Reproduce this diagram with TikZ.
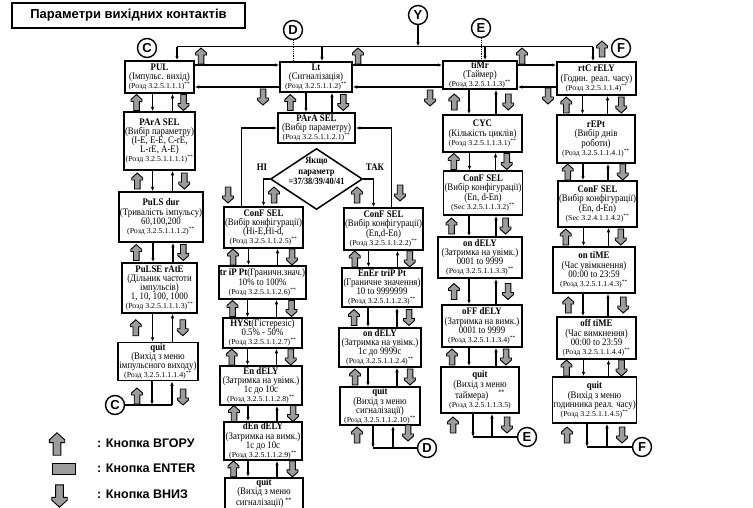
\documentclass[tikz,border=0pt]{standalone}
\usepackage{fontspec}
\setmainfont{Liberation Serif}[FakeStretch=0.88]
\setsansfont{Liberation Sans}
\newfontfamily\reffont{Liberation Serif}[FakeStretch=1.05]
\usepackage{xcolor}
\definecolor{BtnGray}{HTML}{9C9C9C}
\usetikzlibrary{arrows.meta,positioning,shapes.geometric,calc}
\newcommand{\rz}[1]{{\reffont\fontsize{7.5}{8}\selectfont #1\textsuperscript{**}}}
% buttons and the two connectors between a box and the box below it
\newcommand{\vlink}[6]{%
  \draw[flow] ($(#1.south)+(#4,0)$) -- ($(#1.south |- #2.north)+(#4,0)$);
  \draw[flow] ($(#1.south |- #2.north)+(#5,0)$) -- ($(#1.south)+(#5,0)$);
  \path ($(#1.south)!.5!(#2.north)+(#3,0)$) pic{btnup};
  \path ($(#1.south)!.5!(#2.north)+(#6,0)$) pic{btndown};}

\begin{document}
\begin{tikzpicture}[
  x=1pt,y=1pt,
  font=\fontsize{10}{9.2}\selectfont,
  menubox/.style 2 args={draw,line width=1.5pt,inner xsep=1pt,inner ysep=.5pt,align=center,
    minimum width=#1pt,minimum height=#2pt},
  cond/.style={diamond,draw,line width=1.5pt,aspect=1.5,inner sep=0pt,
    minimum width=92pt,minimum height=61pt},
  condtext/.style={align=center,inner sep=0pt,font=\bfseries\fontsize{9.5}{10.5}\selectfont},
  tag/.style={circle,draw,line width=1.4pt,inner sep=0pt,minimum size=19pt,
    font=\sffamily\bfseries\fontsize{13}{13}\selectfont},
  legend/.style={anchor=west,inner sep=0pt,font=\sffamily\bfseries\fontsize{12.5}{12.5}\selectfont},
  flow/.style={-{Latex[length=4.5pt,width=3.5pt]},line width=1.1pt},
  btn/.style={draw=black,fill=BtnGray,line width=0.9pt},
  btnup/.pic={\draw[btn] (-2.8,-8) -- (-2.8,1) -- (-5.5,1) -- (-5.5,3) -- (0,8)
    -- (5.5,3) -- (5.5,1) -- (2.8,1) -- (2.8,-8) -- cycle;},
  btndown/.pic={\draw[btn] (-2.8,8) -- (-2.8,-1) -- (-5.5,-1) -- (-5.5,-3) -- (0,-8)
    -- (5.5,-3) -- (5.5,-1) -- (2.8,-1) -- (2.8,8) -- cycle;}
]
\useasboundingbox (0,0) rectangle (753,-507);
\node[draw,line width=1.2pt,minimum width=233pt,minimum height=25pt,
  font=\sffamily\bfseries\fontsize{13}{15}\selectfont] (title) at (128.5,-15.5)
  {Параметри вихідних контактів};

% pulse output
\node[menubox={69}{32}] (pul) at (159.5,-77) {\textbf{PUL}\\(Імпульс. вихід)\\\rz{(Розд 3.2.5.1.1.1)}};
\node[menubox={71}{58}] (psel1) at (159.5,-141) {\textbf{PArA SEL}\\(Вибір параметру)\\(I-E, E-E, C-rE,\\L-rE, A-E)\\\rz{(Розд 3.2.5.1.1.1.1)}};
\node[menubox={77}{50}] (pdur) at (161,-217) {\textbf{PuLS dur}\\(Тривалість імпульсу)\\60,100,200\\\rz{(Розд 3.2.5.1.1.1.2)}};
\node[menubox={75}{50}] (prate) at (159.5,-288) {\textbf{PuLSE rAtE}\\(Дільник частоти\\імпульсів)\\1, 10, 100, 1000\\\rz{(Розд 3.2.5.1.1.1.3)}};
\node[menubox={80}{38}] (quit1) at (158,-361.5) {\textbf{quit}\\(Вихід з меню\\імпульсного виходу)\\\rz{(Розд 3.2.5.1.1.1.4)}};

% alarm
\node[menubox={72}{30}] (lt) at (316,-77) {\textbf{Lt}\\(Сигналізація)\\\rz{(Розд 3.2.5.1.1.2)}};
\node[menubox={77}{30}] (psel2) at (316.5,-128) {\textbf{PArA SEL}\\(Вибір параметру)\\\rz{(Розд 3.2.5.1.1.2.1)}};
\node[cond,below=4pt of psel2] (cond) {};
\node[condtext] (condq) at ($(cond)+(0,8)$) {Якщо\\параметр\\=37/38/39/40/41};
\node[font=\bfseries] (no) at (262,-167) {НІ};
\node[font=\bfseries] (yes) at (375,-167) {ТАК};

\node[menubox={79}{41}] (conf2a) at (263.5,-227.5) {\textbf{ConF SEL}\\(Вибір конфігурації)\\(Hi-E,Hi-d,\\\rz{(Розд 3.2.5.1.1.2.5)}};
\node[menubox={81}{33}] (trip) at (262.5,-282.5) {\textbf{tr iP Pt}(Граничн.знач.)\\10\% to 100\%\\\rz{(Розд 3.2.5.1.1.2.6)}};
\node[menubox={79}{30}] (hyst) at (262.5,-333) {\textbf{HYSt}(Гістерезіс)\\0.5\% - 50\%\\\rz{(Розд 3.2.5.1.1.2.7)}};
\node[menubox={82}{39}] (endly) at (261,-385.5) {\textbf{En dELY}\\(Затримка на увімк.)\\1с до 10с\\\rz{(Розд 3.2.5.1.1.2.8)}};
\node[menubox={78}{38}] (dendly) at (263,-441) {\textbf{dEn dELY}\\(Затримка на вимк.)\\1с до 10с\\\rz{(Розд 3.2.5.1.1.2.9)}};
\node[menubox={78}{38},anchor=north] (quit2a) at (264,-477) {\textbf{quit}\\(Вихід з меню\\сигналізації)\,\textsuperscript{**}\\\mbox{}};

\node[menubox={79}{42}] (conf2b) at (383.5,-229) {\textbf{ConF SEL}\\(Вибір конфігурації)\\(En,d-En)\\\rz{(Розд 3.2.5.1.1.2.2)}};
\node[menubox={80}{39}] (enertrip) at (382,-287.5) {\textbf{EnEr triP Pt}\\(Граничне значення)\\10 to 9999999\\\rz{(Розд 3.2.5.1.1.2.3)}};
\node[menubox={82}{39}] (ondly2) at (380,-347.5) {\textbf{on dELY}\\(Затримка на увімк.)\\1с до 9999с\\\rz{(Розд 3.2.5.1.1.2.4)}};
\node[menubox={80}{38}] (quit2b) at (380,-406) {\textbf{quit}\\(Вихід з меню\\сигналізації)\\\rz{(Розд 3.2.5.1.1.2.10)}};

% timer
\node[menubox={74}{28}] (timr) at (480,-75) {\textbf{tiMr}\\(Таймер)\\\rz{(Розд 3.2.5.1.1.3)}};
\node[menubox={79}{37}] (cyc) at (482.5,-133.5) {\textbf{CYC}\\(Кількість циклів)\\\rz{(Розд 3.2.5.1.1.3.1)}};
\node[menubox={78}{44}] (conf3) at (483,-193) {\textbf{ConF SEL}\\(Вибір конфігурації)\\(En, d-En)\\\rz{(Sec 3.2.5.1.1.3.2)}};
\node[menubox={84}{41}] (ondly3) at (480,-257.5) {\textbf{on dELY}\\(Затримка на увімк.)\\0001 to 9999\\\rz{(Розд 3.2.5.1.1.3.3)}};
\node[menubox={80}{42}] (offdly3) at (482,-326) {\textbf{oFF dELY}\\(Затримка на вимк.)\\0001 to 9999\\\rz{(Розд 3.2.5.1.1.3.4)}};
\node[menubox={78}{46}] (quit3) at (480,-390) {\textbf{quit}\\(Вихід з меню\\таймера)\quad\textsuperscript{**}\\{\reffont\fontsize{7.5}{8}\selectfont(Розд 3.2.5.1.1.3.5)}};

% real time clock
\node[menubox={79}{33}] (rtc) at (596.5,-78.5) {\textbf{rtC rELY}\\(Годин. реал. часу)\\\rz{(Розд 3.2.5.1.1.4)}};
\node[menubox={78}{48}] (rept) at (596,-139) {\textbf{rEPt}\\(Вибір днів\\роботи)\\\rz{(Розд 3.2.5.1.1.4.1)}};
\node[menubox={79}{46}] (conf4) at (597.5,-204) {\textbf{ConF SEL}\\(Вибір конфігурації)\\(En, d-En)\\\rz{(Sec 3.2.4.1.1.4.2)}};
\node[menubox={82}{46}] (ontime) at (594,-270) {\textbf{on tiME}\\(Час увімкнення)\\00:00 to 23:59\\\rz{(Розд 3.2.5.1.1.4.3)}};
\node[menubox={79}{42}] (offtime) at (596.5,-338) {\textbf{off tiME}\\(Час вимкнення)\\00:00 to 23:59\\\rz{(Розд 3.2.5.1.1.4.4)}};
\node[menubox={79}{46}] (quit4) at (594.5,-400) {\textbf{quit}\\(Вихід з меню\\годинника реал. часу)\\\rz{(Розд 3.2.5.1.1.4.5)}};

% jump marks
\node[tag] (ctop) at (147,-48) {C};
\node[tag] (dtop) at (293,-30) {D};
\node[tag] (ytop) at (418,-15) {Y};
\node[tag] (etop) at (481,-28) {E};
\node[tag] (ftop) at (621,-48) {F};
\node[tag] (cbot) at (115,-405) {C};
\node[tag] (dbot) at (427,-448) {D};
\node[tag] (ebot) at (527,-437) {E};
\node[tag] (fbot) at (642,-447) {F};

% entry bus
\coordinate (busL) at (177,-46.5);
\coordinate (busR) at (593,-46.5);
\draw[line width=1.1pt] (busL) -- (busR);
\draw[flow] (busL) -- (busL |- pul.north);
\draw[flow] ($(lt.north |- busL)+(6,0)$) -- ($(lt.north)+(6,0)$);
\draw[flow] ($(timr.north |- busL)+(5,0)$) -- ($(timr.north)+(5,0)$);
\draw[flow] (busR) -- (busR |- rtc.north);
\draw[flow] (ytop) -- (ytop |- busL);
\draw[densely dotted,line width=.8pt] (dtop) -- (dtop |- lt.north);
\draw[densely dotted,line width=.8pt] (etop) -- (etop |- timr.north);

% top row
\coordinate (fwd) at (0,-65);
\coordinate (bwd) at (0,-87);
\draw[flow] (pul.east |- fwd) -- (lt.west |- fwd);
\draw[flow] (lt.east |- fwd) -- (timr.west |- fwd);
\draw[flow] (timr.east |- fwd) -- (rtc.west |- fwd);
\draw[flow] (rtc.west |- bwd) -- (timr.east |- bwd);
\draw[flow] (timr.west |- bwd) -- (lt.east |- bwd);
\draw[flow] (lt.west |- bwd) -- (pul.east |- bwd);
\path (201,-56) pic{btnup} (358,-56) pic{btnup} (522,-56) pic{btnup} (602,-49) pic{btnup};
\path (263,-97) pic{btndown} (430,-98) pic{btndown} (548,-96) pic{btndown};

% columns
\vlink{pul}{psel1}{-23}{-7}{13}{24}
\vlink{psel1}{pdur}{-23}{-7}{13}{24}
\vlink{pdur}{prate}{-24}{-8}{12}{23}
\vlink{prate}{quit1}{-23}{-7}{13}{24}
\vlink{lt}{psel2}{-26}{-10}{16}{27}
\vlink{conf2a}{trip}{-30}{-15}{14}{29}
\vlink{trip}{hyst}{-30}{-15}{14}{29}
\vlink{hyst}{endly}{-30}{-15}{14}{29}
\vlink{endly}{dendly}{-28}{-13}{16}{31}
\vlink{dendly}{quit2a}{-30}{-15}{14}{29}
\vlink{conf2b}{enertrip}{-28}{-15}{14}{27}
\vlink{enertrip}{ondly2}{-27}{-14}{15}{28}
\vlink{ondly2}{quit2b}{-25}{-12}{17}{30}
\vlink{timr}{cyc}{-27}{-11}{16}{27}
\vlink{cyc}{conf3}{-29}{-13}{13}{24}
\vlink{conf3}{ondly3}{-30}{-14}{13}{24}
\vlink{ondly3}{offdly3}{-27}{-11}{16}{27}
\vlink{offdly3}{quit3}{-29}{-13}{14}{25}
\vlink{rtc}{rept}{-30}{-14}{11}{25}
\vlink{rept}{conf4}{-29}{-13}{12}{26}
\vlink{conf4}{ontime}{-30}{-14}{11}{25}
\vlink{ontime}{offtime}{-27}{-11}{14}{28}
\vlink{offtime}{quit4}{-29}{-13}{12}{26}

% parameter choice
\draw[flow] ($(conf2a.north)+(-22,0)$) |- (psel2.west);
\draw[flow] ($(conf2b.north)+(8,0)$) |- (psel2.east);
\draw[flow] (cond.west) -| (conf2a.north);
\draw[flow] (cond.east) -| ($(conf2b.north)+(-10,0)$);
\path (228,-195) pic{btndown} (274,-195) pic{btnup} (357,-195) pic{btnup} (400,-193) pic{btndown};

% exits
\draw[flow] ($(quit1.south)+(-6,0)$) -- ($(quit1.south |- cbot)+(-6,0)$);
\draw[flow] ($(quit1.south |- cbot)+(14,0)$) -- ($(quit1.south)+(14,0)$);
\draw[line width=1.1pt] (cbot) -- ($(quit1.south |- cbot)+(14,0)$);
\draw[flow] ($(quit2b.south)+(-7,0)$) -- ($(quit2b.south |- dbot)+(-7,0)$);
\draw[flow] ($(quit2b.south |- dbot)+(13,0)$) -- ($(quit2b.south)+(13,0)$);
\draw[line width=1.1pt] (dbot) -- ($(quit2b.south |- dbot)+(-7,0)$);
\draw[flow] ($(quit3.south)+(-7,0)$) -- ($(quit3.south |- ebot)+(-7,0)$);
\draw[flow] ($(quit3.south |- ebot)+(12,0)$) -- ($(quit3.south)+(12,0)$);
\draw[line width=1.1pt] (ebot) -- ($(quit3.south |- ebot)+(-7,0)$);
\draw[flow] ($(quit4.south)+(-7.5,0)$) -- ($(quit4.south |- fbot)+(-7.5,0)$);
\draw[flow] ($(quit4.south |- fbot)+(12.5,0)$) -- ($(quit4.south)+(12.5,0)$);
\draw[line width=1.1pt] (fbot) -- ($(quit4.south |- fbot)+(-7.5,0)$);
\path (137,-396) pic{btnup} (183,-397) pic{btndown};
\path (357,-435) pic{btnup} (408,-433) pic{btndown};
\path (453,-425) pic{btnup} (507,-425) pic{btndown};
\path (567,-435) pic{btnup} (622,-435) pic{btndown};

% legend
\path (57,-444) pic[scale=1.4]{btnup};
\node[draw,fill=BtnGray,line width=1pt,minimum width=23pt,minimum height=11pt,inner sep=0pt] (enterkey) at (63.5,-468.5) {};
\path (59.5,-496) pic[scale=1.4]{btndown};
\node[legend] (lgup) at (97,-443) {: Кнопка ВГОРУ};
\node[legend] (lgenter) at (97,-468.5) {: Кнопка ENTER};
\node[legend] (lgdown) at (97,-494) {: Кнопка ВНИЗ};
\end{tikzpicture}
\end{document}
